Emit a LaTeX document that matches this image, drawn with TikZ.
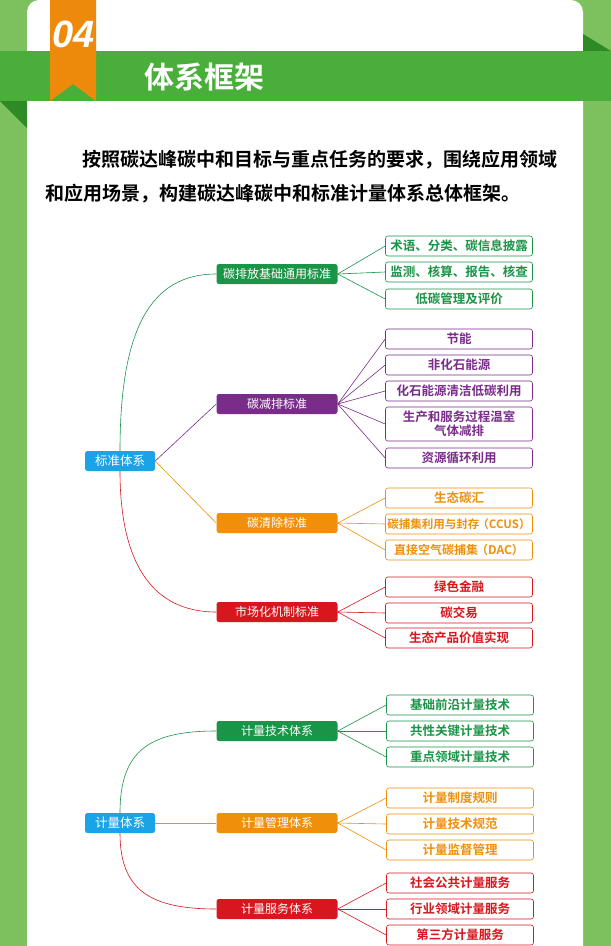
\documentclass[tikz,border=0pt]{standalone}
\usepackage{fontspec}
\newfontfamily\cjk{Noto Sans CJK SC}
\newfontfamily\cjkb{Noto Sans CJK SC Bold}
\definecolor{bglight}{HTML}{7CC15E}
\definecolor{band}{HTML}{4AAF3A}
\definecolor{fold}{HTML}{2E8A25}
\definecolor{ribbon}{HTML}{EE8A0B}
\definecolor{cG}{HTML}{1A9447}
\definecolor{cP}{HTML}{7A2C8B}
\definecolor{cO}{HTML}{F0900A}
\definecolor{cR}{HTML}{D7161E}
\definecolor{cB}{HTML}{1AA3E6}
\tikzset{
 root/.style={fill=cB,text=white,rounded corners=2.5pt,minimum width=70pt,minimum height=20pt,font=\cjk\fontsize{12.5}{13}\selectfont,inner sep=0pt},
 lvl/.style={fill=#1,text=white,rounded corners=2.5pt,minimum width=121pt,minimum height=20pt,font=\cjk\fontsize{12}{13}\selectfont,inner sep=0pt},
 leaf/.style={draw=#1,text=#1,fill=white,rounded corners=2.5pt,minimum width=147pt,text width=145pt,minimum height=20pt,font=\cjkb\fontsize{12.5}{14}\selectfont,inner sep=0pt,align=center,line width=0.6pt},
 con/.style={draw=#1,line width=0.6pt},
}
\begin{document}
\begin{tikzpicture}[x=1pt,y=-1pt]
\useasboundingbox (0,0) rectangle (611,946);
\fill[bglight] (0,0) rectangle (611,946);
\fill[white,rounded corners=12pt] (27,960) -- (27,0) -- (583,0) -- (583,960);
\fill[fold] (583,34) -- (611,51) -- (583,51) -- cycle;
\fill[fold] (0,101) -- (27,101) -- (27,128) -- cycle;
\fill[band] (0,51) rectangle (611,101);
\fill[ribbon] (50,0) -- (96,0) -- (96,101) -- (73,84) -- (50,101) -- cycle;
\node (num) at (74,34) {\fontspec{Liberation Sans}\bfseries\itshape\fontsize{38}{38}\selectfont\color{white}04};
\node (title) at (204,77) {\cjkb\fontsize{30}{32}\selectfont\color{white}体系框架};
\node[anchor=west,inner sep=0pt] (p1) at (82,160) {\cjkb\fontsize{19}{20}\selectfont 按照碳达峰碳中和目标与重点任务的要求，围绕应用领域};
\node[anchor=west,inner sep=0pt] (p2) at (45,194) {\cjkb\fontsize{19}{20}\selectfont 和应用场景，构建碳达峰碳中和标准计量体系总体框架。};

% ---- 标准体系
\node[root] (r1) at (120,461) {标准体系};
\node[lvl=cG] (a1) at (277,274) {碳排放基础通用标准};
\node[lvl=cP] (a2) at (277,404) {碳减排标准};
\node[lvl=cO] (a3) at (277,523) {碳清除标准};
\node[lvl=cR] (a4) at (277,612) {市场化机制标准};
\draw[con=cG] (r1.north) .. controls (120,330) and (150,274) .. (a1.west);
\draw[con=cP] (r1.east) -- (a2.west);
\draw[con=cO] (r1.east) -- (a3.west);
\draw[con=cR] (r1.south) .. controls (120,560) and (150,612) .. (a4.west);

\node[leaf=cG] (g1) at (459,246) {术语、分类、碳信息披露};
\node[leaf=cG] (g2) at (459,272) {监测、核算、报告、核查};
\node[leaf=cG] (g3) at (459,299) {低碳管理及评价};
\foreach \n in {g1,g2,g3} \draw[con=cG] (a1.east) -- (\n.west);

\node[leaf=cP] (p1n) at (459,339) {节能};
\node[leaf=cP] (p2n) at (459,365) {非化石能源};
\node[leaf=cP] (p3n) at (459,391) {化石能源清洁低碳利用};
\node[leaf=cP,minimum height=34pt] (p4n) at (459,424) {生产和服务过程温室\\气体减排};
\node[leaf=cP] (p5n) at (459,458) {资源循环利用};
\foreach \n in {p1n,p2n,p3n,p4n,p5n} \draw[con=cP] (a2.east) -- (\n.west);

\node[leaf=cO] (o1) at (459,498) {生态碳汇};
\node[leaf=cO] (o2) at (459,524) {\fontsize{11.5}{13}\selectfont 碳捕集利用与封存\kern-2pt（CCUS）};
\node[leaf=cO] (o3) at (459,550) {\fontsize{12}{13}\selectfont 直接空气碳捕集\kern-2pt（DAC）};
\foreach \n in {o1,o2,o3} \draw[con=cO] (a3.east) -- (\n.west);

\node[leaf=cR] (q1) at (459,587) {绿色金融};
\node[leaf=cR] (q2) at (459,613) {碳交易};
\node[leaf=cR] (q3) at (459,638) {生态产品价值实现};
\foreach \n in {q1,q2,q3} \draw[con=cR] (a4.east) -- (\n.west);

% ---- 计量体系
\node[root] (r2) at (120,823) {计量体系};
\node[lvl=cG] (b1) at (277,731) {计量技术体系};
\node[lvl=cO] (b2) at (277,823) {计量管理体系};
\node[lvl=cR] (b3) at (277,909) {计量服务体系};
\draw[con=cG] (r2.north) .. controls (120,750) and (150,731) .. (b1.west);
\draw[con=cO] (r2.east) -- (b2.west);
\draw[con=cR] (r2.south) .. controls (120,890) and (150,909) .. (b3.west);

\node[leaf=cG] (h1) at (460,705) {基础前沿计量技术};
\node[leaf=cG] (h2) at (460,731) {共性关键计量技术};
\node[leaf=cG] (h3) at (460,757) {重点领域计量技术};
\foreach \n in {h1,h2,h3} \draw[con=cG] (b1.east) -- (\n.west);

\node[leaf=cO] (m1) at (460,798) {计量制度规则};
\node[leaf=cO] (m2) at (460,824) {计量技术规范};
\node[leaf=cO] (m3) at (460,850) {计量监督管理};
\foreach \n in {m1,m2,m3} \draw[con=cO] (b2.east) -- (\n.west);

\node[leaf=cR] (s1) at (460,883) {社会公共计量服务};
\node[leaf=cR] (s2) at (460,909) {行业领域计量服务};
\node[leaf=cR] (s3) at (460,935) {第三方计量服务};
\foreach \n in {s1,s2,s3} \draw[con=cR] (b3.east) -- (\n.west);
\end{tikzpicture}
\end{document}
